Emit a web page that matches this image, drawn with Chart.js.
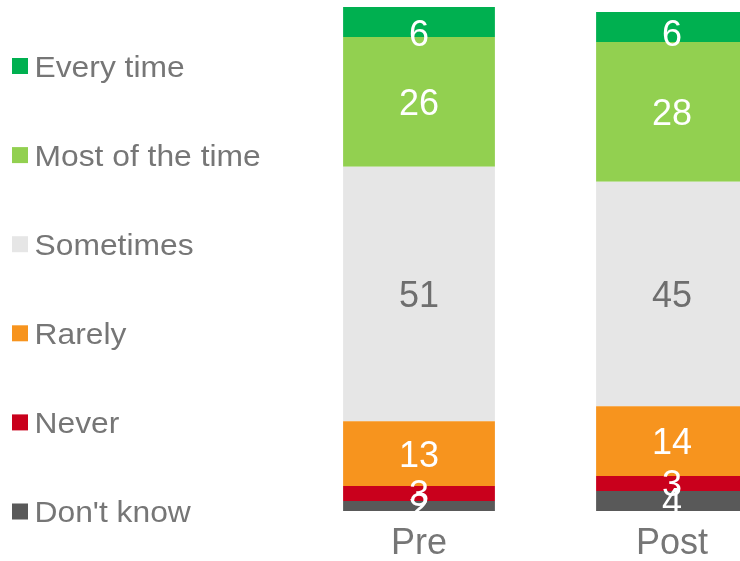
<!DOCTYPE html>
<html>
<head>
<meta charset="utf-8">
<script src="https://cdn.jsdelivr.net/npm/chart.js@4/dist/chart.umd.min.js"></script>
<style>
  html, body { margin: 0; padding: 0; background: #fff; overflow: hidden; }
  .wrap { width: 740px; height: 561px; overflow: hidden; position: relative; }
  canvas { display: block; }
</style>
</head>
<body>
<div class="wrap">
  <canvas id="chart" width="800" height="561"></canvas>
</div>
<script>
const categories = ["Pre", "Post"];

// stacked bottom to top
const dontKnow = [2, 4];
const never = [3, 3];
const rarely = [13, 14];
const sometimes = [51, 45];
const mostOfTheTime = [26, 28];
const everyTime = [6, 6];

const FONT = '"Liberation Sans", Arial, sans-serif';
const GREY_TEXT = "#767676";

let totals = categories.map((c, i) =>
    dontKnow[i] + never[i] + rarely[i] + sometimes[i] + mostOfTheTime[i] + everyTime[i]);

// labels in the middle of each segment, clipped to the plot
const segmentLabels = {
    id: "segmentLabels",
    afterDatasetsDraw(chart) {
        const ctx = chart.ctx;
        const area = chart.chartArea;
        const size = 36;
        ctx.save();
        ctx.beginPath();
        ctx.rect(area.left, area.top, area.right - area.left, area.bottom - area.top);
        ctx.clip();
        ctx.font = size + "px " + FONT;
        ctx.textAlign = "center";
        ctx.textBaseline = "alphabetic";
        chart.data.datasets.forEach((ds, di) => {
            const meta = chart.getDatasetMeta(di);
            meta.data.forEach((bar, i) => {
                const p = bar.getProps(["x", "y", "base"], true);
                let cy = (p.y + p.base) / 2;
                if (cy < area.top + 26) cy = area.top + 26;
                ctx.fillStyle = ds.labelColor;
                ctx.fillText(String(ds.data[i]), p.x, cy + size * 0.716 / 2);
            });
        });
        ctx.restore();
    }
};

// legend column on the left, top entry first
const sideLegend = {
    id: "sideLegend",
    afterDraw(chart) {
        const ctx = chart.ctx;
        const size = 30;
        const box = 16;
        ctx.save();
        ctx.font = size + "px " + FONT;
        ctx.textAlign = "left";
        ctx.textBaseline = "alphabetic";
        const list = chart.data.datasets.slice().reverse();
        list.forEach((ds, k) => {
            const cy = 66 + k * 89.1;
            ctx.fillStyle = ds.backgroundColor;
            ctx.fillRect(12, cy - box / 2, box, box);
            ctx.fillStyle = GREY_TEXT;
            ctx.save();
            ctx.translate(34.5, cy + size * 0.716 / 2);
            ctx.scale(1.06, 1); // slightly wide lettering
            ctx.fillText(ds.label, 0, 0);
            ctx.restore();
        });
        ctx.restore();
    }
};

function series(label, data, color, labelColor) {
    return {
        label: label,
        data: data,
        backgroundColor: color,
        labelColor: labelColor,
        borderWidth: 0,
        categoryPercentage: 1,
        barPercentage: 0.6
    };
}

new Chart(document.getElementById("chart"), {
    type: "bar",
    data: {
        labels: categories,
        datasets: [
            series("Don't know", dontKnow, "#595959", "#ffffff"),
            series("Never", never, "#C9001C", "#ffffff"),
            series("Rarely", rarely, "#F7941E", "#ffffff"),
            series("Sometimes", sometimes, "#E6E6E6", "#6E6E6E"),
            series("Most of the time", mostOfTheTime, "#92D050", "#ffffff"),
            series("Every time", everyTime, "#00B050", "#ffffff")
        ]
    },
    options: {
        responsive: false,
        animation: false,
        layout: { padding: { left: 292.5, right: 1.5, top: 7, bottom: 0 } },
        plugins: {
            legend: { display: false },
            tooltip: { enabled: false }
        },
        scales: {
            x: {
                stacked: true,
                grid: { display: false },
                border: { display: false },
                ticks: {
                    color: GREY_TEXT,
                    padding: 9,
                    font: { family: FONT, size: 36, lineHeight: 0.9 }
                },
                afterFit(scale) {
                    scale.height = 50;
                }
            },
            y: {
                stacked: true,
                display: false,
                min: 0,
                max: Math.max(...totals)
            }
        }
    },
    plugins: [segmentLabels, sideLegend]
});
</script>
</body>
</html>
